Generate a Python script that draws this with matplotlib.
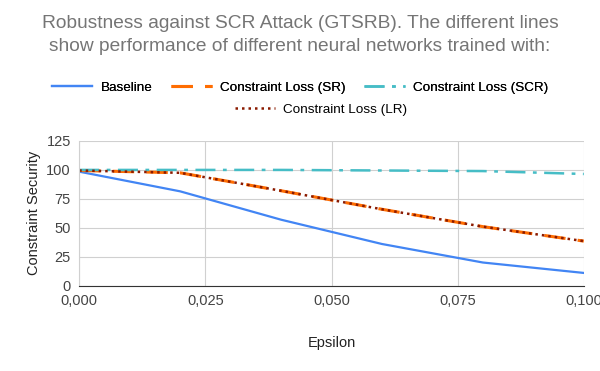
import numpy as np
import matplotlib.pyplot as plt
from matplotlib.ticker import FuncFormatter

plt.rcParams['font.family'] = ['Liberation Sans', 'DejaVu Sans']

eps = [0.0, 0.02, 0.04, 0.06, 0.08, 0.1]
baseline = [98.5, 81.5, 57, 36, 20, 11]
sr = [99.5, 97.5, 82, 66, 51, 38.5]
scr = [100, 100, 100, 99.5, 99, 96.5]
lr = [99.5, 97.5, 82, 66, 51, 38.5]

fig = plt.figure(figsize=(6, 3.71), dpi=100)
ax = fig.add_axes([0.132, 0.230, 0.841, 0.390])

l1, = ax.plot(eps, baseline, color='#4285F4', lw=1.6, label='Baseline')
l2, = ax.plot(eps, sr, color='#FF6D01', lw=2.2, dashes=(7, 4), label='Constraint Loss (SR)')
l3, = ax.plot(eps, scr, color='#46BDC6', lw=1.8, dashes=(8, 3, 1.5, 3), label='Constraint Loss (SCR)')
l4, = ax.plot(eps, lr, color='#8B1A00', lw=1.8, dashes=(1, 1.6), label='Constraint Loss (LR)')

ax.set_xlim(0, 0.1)
ax.set_ylim(0, 125)
ax.set_xticks(np.arange(0, 0.1001, 0.025))
ax.set_yticks(np.arange(0, 126, 25))
ax.xaxis.set_major_formatter(FuncFormatter(lambda v, p: f'{v:.3f}'.replace('.', ',')))
ax.grid(color='#d0d0d0', lw=0.8)
ax.set_axisbelow(True)
for s in ['top', 'right']:
    ax.spines[s].set_visible(False)
ax.spines['left'].set_color('#d0d0d0')
ax.spines['bottom'].set_color('#333333')
ax.tick_params(length=0, labelsize=10.5, colors='#444444', pad=6)
ax.set_xlabel('Epsilon', fontsize=10.5, color='#222222', labelpad=20)
ax.set_ylabel('Constraint Security', fontsize=10.5, color='#222222', labelpad=4)

fig.text(0.5, 0.905, 'Robustness against SCR Attack (GTSRB). The different lines\nshow performance of different neural networks trained with:',
         ha='center', va='center', fontsize=13.8, color='#757575', linespacing=1.45)

leg1 = fig.legend(handles=[l1, l2, l3], loc='center', bbox_to_anchor=(0.5, 0.763), ncol=3,
                  frameon=False, fontsize=9.7, handlelength=3.0, columnspacing=1.4, handletextpad=0.6)
fig.add_artist(leg1)
fig.legend(handles=[l4], loc='center', bbox_to_anchor=(0.535, 0.705), frameon=False,
           fontsize=9.7, handlelength=3.0, handletextpad=0.6)

fig.savefig('out.png', dpi=100)
